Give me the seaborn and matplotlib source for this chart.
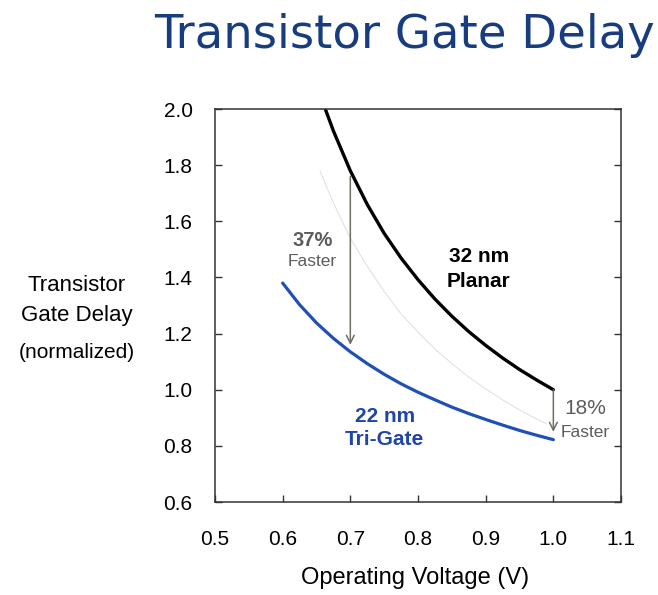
import matplotlib
matplotlib.use("Agg")
import matplotlib.pyplot as plt
import seaborn as sns
import pandas as pd

# Gate delay (normalized) versus operating voltage
planar_v = [0.663, 0.675, 0.700, 0.725, 0.750, 0.775, 0.800, 0.825, 0.850, 0.875, 0.900, 0.925, 0.950, 0.975, 1.000]
planar_d = [2.00, 1.922, 1.78, 1.66, 1.557, 1.469, 1.392, 1.323, 1.262, 1.207, 1.158, 1.113, 1.072, 1.035, 1.00]

trigate_v = [0.600, 0.625, 0.650, 0.675, 0.700, 0.725, 0.750, 0.775, 0.800, 0.825, 0.850, 0.875, 0.900, 0.925, 0.950, 0.975, 1.000]
trigate_d = [1.38, 1.303, 1.238, 1.183, 1.135, 1.093, 1.055, 1.021, 0.991, 0.964, 0.938, 0.915, 0.894, 0.874, 0.855, 0.838, 0.822]

shifted_v = [0.655, 0.675, 0.700, 0.725, 0.750, 0.775, 0.800, 0.825, 0.850, 0.875, 0.900, 0.925, 0.950, 0.975, 0.990]
shifted_d = [1.78, 1.665, 1.54, 1.44, 1.35, 1.27, 1.205, 1.145, 1.093, 1.045, 1.003, 0.964, 0.928, 0.896, 0.878]

# Speed-up arrows: (voltage, from delay, to delay)
low_v_arrow = (0.70, 1.76, 1.16)
high_v_arrow = (1.00, 1.00, 0.85)

x_ticks = [0.5, 0.6, 0.7, 0.8, 0.9, 1.0, 1.1]
y_ticks = [0.6, 0.8, 1.0, 1.2, 1.4, 1.6, 1.8, 2.0]

df = pd.concat([
    pd.DataFrame({"V": planar_v, "delay": planar_d, "node": "32 nm Planar"}),
    pd.DataFrame({"V": trigate_v, "delay": trigate_d, "node": "22 nm Tri-Gate"}),
    pd.DataFrame({"V": shifted_v, "delay": shifted_d, "node": "guide"}),
])

sns.set_theme(style="ticks")
plt.rcParams["font.family"] = ["Liberation Sans", "DejaVu Sans"]

fig = plt.figure(figsize=(6.58, 5.95), dpi=100)
ax = fig.add_axes([0.3267, 0.1563, 0.6171, 0.6605])

sns.lineplot(data=df[df.node == "guide"], x="V", y="delay", color="#dedede",
             lw=0.7, ax=ax, legend=False, sort=False)
sns.lineplot(data=df[df.node == "32 nm Planar"], x="V", y="delay", color="black",
             lw=2.4, ax=ax, legend=False, sort=False)
sns.lineplot(data=df[df.node == "22 nm Tri-Gate"], x="V", y="delay", color="#2150b4",
             lw=2.3, ax=ax, legend=False, sort=False)

arrow_kw = dict(arrowstyle="->", color="#6e6e62", lw=1.1, shrinkA=0, shrinkB=0,
                mutation_scale=14)
for xv, y0, y1 in (low_v_arrow, high_v_arrow):
    ax.annotate("", xy=(xv, y1), xytext=(xv, y0), arrowprops=arrow_kw)

ax.set_xlim(0.5, 1.1)
ax.set_ylim(0.6, 2.0)
ax.set_xticks(x_ticks)
ax.set_yticks(y_ticks)
ax.set_xticklabels([f"{t:.1f}" for t in x_ticks])
ax.set_yticklabels([f"{t:.1f}" for t in y_ticks])
ax.tick_params(direction="in", length=5, width=1, color="#333333",
               labelsize=15, labelcolor="black", right=True, top=False)
ax.tick_params(axis="x", pad=20)
ax.tick_params(axis="y", pad=16)
for s in ax.spines.values():
    s.set_color("#333333")
    s.set_linewidth(1.1)
ax.set_xlabel("")
ax.set_ylabel("")

# Curve labels
ax.text(0.890, 1.474, "32 nm", ha="center", va="center", fontsize=15,
        fontweight="bold", color="black")
ax.text(0.890, 1.385, "Planar", ha="center", va="center", fontsize=15,
        fontweight="bold", color="black")
ax.text(0.751, 0.904, "22 nm", ha="center", va="center", fontsize=15,
        fontweight="bold", color="#1f45a8")
ax.text(0.751, 0.822, "Tri-Gate", ha="center", va="center", fontsize=15,
        fontweight="bold", color="#1f45a8")

ax.text(0.644, 1.532, "37%", ha="center", va="center", fontsize=14.5,
        fontweight="bold", color="#5c5c5c")
ax.text(0.644, 1.455, "Faster", ha="center", va="center", fontsize=12.5,
        color="#5c5c5c")
ax.text(1.047, 0.932, "18%", ha="center", va="center", fontsize=15,
        color="#5c5c5c")
ax.text(1.047, 0.849, "Faster", ha="center", va="center", fontsize=12.5,
        color="#5c5c5c")

# Axis titles
fig.text(415 / 658, 1 - 578 / 595, "Operating Voltage (V)", ha="center",
         va="center", fontsize=17, color="black")
fig.text(77 / 658, 1 - 285 / 595, "Transistor", ha="center", va="center",
         fontsize=16, color="black")
fig.text(77 / 658, 1 - 315 / 595, "Gate Delay", ha="center", va="center",
         fontsize=16, color="black")
fig.text(77 / 658, 1 - 352 / 595, "(normalized)", ha="center", va="center",
         fontsize=15, color="black")

fig.text(405 / 658, 1 - 35 / 595, "Transistor Gate Delay", ha="center",
         va="center", fontsize=33.5, color="#173c80", family="DejaVu Sans")

fig.savefig("out.png", dpi=100, facecolor="white")
